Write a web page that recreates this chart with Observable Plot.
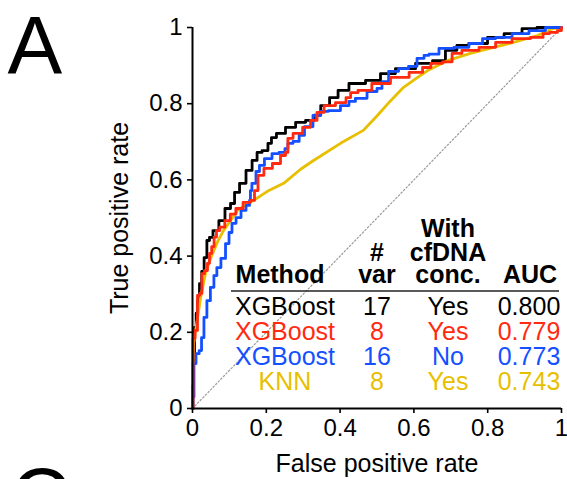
<!DOCTYPE html>
<html><head><meta charset="utf-8">
<script src="https://cdn.jsdelivr.net/npm/d3@7"></script>
<script src="https://cdn.jsdelivr.net/npm/@observablehq/plot@0.6"></script>
<style>
html,body{margin:0;padding:0;background:#fff;}
#chart{width:567px;height:479px;overflow:hidden;position:relative;}
svg{font-family:"Liberation Sans",Arial,Helvetica,sans-serif;}
</style>
</head><body><div id="chart"></div>
<script>
// ---------- data ----------
const xTicks = [0, 0.2, 0.4, 0.6, 0.8, 1];
const yTicks = [0, 0.2, 0.4, 0.6, 0.8, 1];

const methods = ["XGBoost", "XGBoost", "XGBoost", "KNN"];
const nVars   = ["17", "8", "16", "8"];
const withCf  = ["Yes", "Yes", "No", "Yes"];
const aucs    = ["0.800", "0.779", "0.773", "0.743"];
const colors  = ["#000000", "#ff2a10", "#1450ff", "#e8bf00"];

const xgb17Fpr = [0,0.001,0.003,0.008,0.012,0.016,0.022,0.028,0.035,0.043,0.049,0.062,0.081,0.095,0.111,0.117,0.138,0.152,0.171,0.179,0.198,0.211,0.217,0.238,0.266,0.293,0.320,0.340,0.355,0.388,0.401,0.447,0.491,0.528,0.572,0.637,0.664,0.707,0.726,0.772,0.827,0.862,0.924,0.943,1];
const xgb17Tpr = [0,0.06,0.12,0.213,0.25,0.283,0.328,0.36,0.396,0.441,0.449,0.467,0.493,0.525,0.538,0.567,0.591,0.625,0.651,0.672,0.677,0.696,0.711,0.722,0.738,0.751,0.756,0.77,0.795,0.816,0.835,0.853,0.861,0.879,0.892,0.906,0.913,0.940,0.953,0.958,0.974,0.984,0.997,1,1];

const xgb8Fpr = [0,0.003,0.011,0.016,0.024,0.027,0.038,0.043,0.049,0.055,0.062,0.068,0.080,0.095,0.110,0.125,0.149,0.165,0.171,0.184,0.203,0.230,0.247,0.257,0.260,0.285,0.312,0.328,0.347,0.366,0.409,0.423,0.434,0.463,0.509,0.564,0.610,0.637,0.655,0.700,0.707,0.753,0.800,0.843,0.889,0.943,0.957,0.978,1,1];
const xgb8Tpr = [0,0.184,0.205,0.297,0.302,0.354,0.362,0.381,0.407,0.425,0.45,0.467,0.476,0.493,0.51,0.525,0.541,0.546,0.572,0.612,0.630,0.643,0.664,0.672,0.709,0.722,0.738,0.756,0.777,0.795,0.803,0.816,0.829,0.835,0.853,0.869,0.882,0.895,0.906,0.91,0.932,0.94,0.948,0.961,0.971,0.974,0.984,0.987,0.992,1];

const xgb16Fpr = [0,0.003,0.005,0.014,0.022,0.027,0.035,0.043,0.054,0.062,0.070,0.084,0.095,0.103,0.111,0.125,0.138,0.152,0.157,0.157,0.165,0.179,0.184,0.206,0.225,0.244,0.257,0.260,0.285,0.293,0.314,0.339,0.355,0.382,0.420,0.428,0.455,0.491,0.509,0.518,0.545,0.572,0.599,0.618,0.637,0.645,0.691,0.726,0.772,0.800,0.843,0.889,0.935,0.978,1];
const xgb16Tpr = [0,0.03,0.118,0.144,0.152,0.186,0.239,0.283,0.318,0.349,0.37,0.394,0.433,0.462,0.486,0.501,0.520,0.533,0.546,0.572,0.591,0.622,0.638,0.656,0.669,0.672,0.682,0.696,0.701,0.717,0.740,0.769,0.780,0.782,0.795,0.806,0.814,0.832,0.840,0.858,0.885,0.892,0.898,0.919,0.927,0.93,0.945,0.948,0.958,0.971,0.974,0.984,0.992,1,1];

const knnFpr = [0,0.003,0.022,0.035,0.049,0.068,0.084,0.103,0.122,0.149,0.165,0.203,0.247,0.293,0.328,0.401,0.463,0.501,0.537,0.572,0.610,0.637,0.691,0.753,0.816,0.870,0.935,0.976,1];
const knnTpr = [0,0.171,0.291,0.354,0.394,0.438,0.467,0.493,0.520,0.538,0.546,0.570,0.591,0.628,0.651,0.696,0.730,0.769,0.808,0.843,0.869,0.887,0.913,0.932,0.948,0.961,0.979,0.997,1];

const diagonal = [0, 1];

// ---------- build tables ----------
const seriesList = [
  {fpr: xgb17Fpr, tpr: xgb17Tpr, color: colors[0], curve: "step"},
  {fpr: knnFpr,   tpr: knnTpr,   color: colors[3], curve: "linear"},
  {fpr: xgb16Fpr, tpr: xgb16Tpr, color: colors[2], curve: "step"},
  {fpr: xgb8Fpr,  tpr: xgb8Tpr,  color: colors[1], curve: "step"}
];
const toRows = s => s.fpr.map((f, i) => ({fpr: f, tpr: s.tpr[i]}));

const font = '"Liberation Sans",Arial,Helvetica,sans-serif';

const plot = Plot.plot({
  width: 567,
  height: 479,
  marginLeft: 192,
  marginRight: 6,
  marginTop: 27,
  marginBottom: 71,
  style: {fontFamily: font, fontSize: "24px", background: "#fff", color: "#000", overflow: "hidden"},
  x: {domain: [0, 1]},
  y: {domain: [0, 1]},
  marks: [
    Plot.line(diagonal.map(d => ({fpr: d, tpr: d})), {x: "fpr", y: "tpr", stroke: "#9a9a9a", strokeWidth: 1.2, strokeDasharray: "1.5,2.2"}),
    ...seriesList.map(s => Plot.line(toRows(s), {x: "fpr", y: "tpr", stroke: s.color, strokeWidth: 2.8, curve: s.curve})),
    Plot.ruleX([0], {stroke: "#000", strokeWidth: 2}),
    Plot.ruleY([0], {stroke: "#000", strokeWidth: 2}),
    Plot.axisX({ticks: xTicks, tickFormat: d => String(d), tickSize: 5, tickPadding: 5, strokeWidth: 1.6, label: null, fontSize: 24}),
    Plot.axisY({ticks: yTicks, tickFormat: d => String(d), tickSize: 5, tickPadding: 5, strokeWidth: 1.6, label: null, fontSize: 24}),
    Plot.text(["False positive rate"], {frameAnchor: "bottom", dy: 63, lineAnchor: "bottom", textAnchor: "middle", fontSize: 25, fill: "#000"}),
    Plot.text(["True positive rate"], {frameAnchor: "left", dx: -65, rotate: -90, lineAnchor: "bottom", textAnchor: "middle", fontSize: 25, fill: "#000"}),
    Plot.text(["A"], {frameAnchor: "top-left", dx: -185, dy: 45, lineAnchor: "bottom", textAnchor: "start", fontSize: 82, fill: "#000"}),
    Plot.text(["C"], {frameAnchor: "top-left", dx: -182, dy: 497, lineAnchor: "bottom", textAnchor: "start", fontSize: 82, fill: "#000"})
  ]
});
document.getElementById("chart").appendChild(plot);

// ---------- legend table (layout in pixels) ----------
const colX = [285, 377, 448, 529];
const rowY = [315, 340, 365, 390];
const headers = [
  {t: "Method", x: 280, y: 283},
  {t: "#", x: 377, y: 261},
  {t: "var", x: 377, y: 283},
  {t: "With", x: 448, y: 237},
  {t: "cfDNA", x: 448, y: 261},
  {t: "conc.", x: 448, y: 283},
  {t: "AUC", x: 530, y: 283}
];
const svg = d3.select(plot);
const g = svg.append("g").attr("font-family", font).attr("font-size", 25).attr("text-anchor", "middle");
g.selectAll("text.h").data(headers).join("text").attr("class", "h")
  .attr("x", d => d.x).attr("y", d => d.y).attr("font-weight", "bold").attr("fill", "#000").text(d => d.t);
g.append("line").attr("x1", 231).attr("x2", 559).attr("y1", 291).attr("y2", 291).attr("stroke", "#222").attr("stroke-width", 1.6);
methods.forEach((m, i) => {
  const cells = [m, nVars[i], withCf[i], aucs[i]];
  cells.forEach((c, j) => {
    g.append("text").attr("x", colX[j]).attr("y", rowY[i]).attr("fill", colors[i]).text(c);
  });
});
</script>
</body></html>
